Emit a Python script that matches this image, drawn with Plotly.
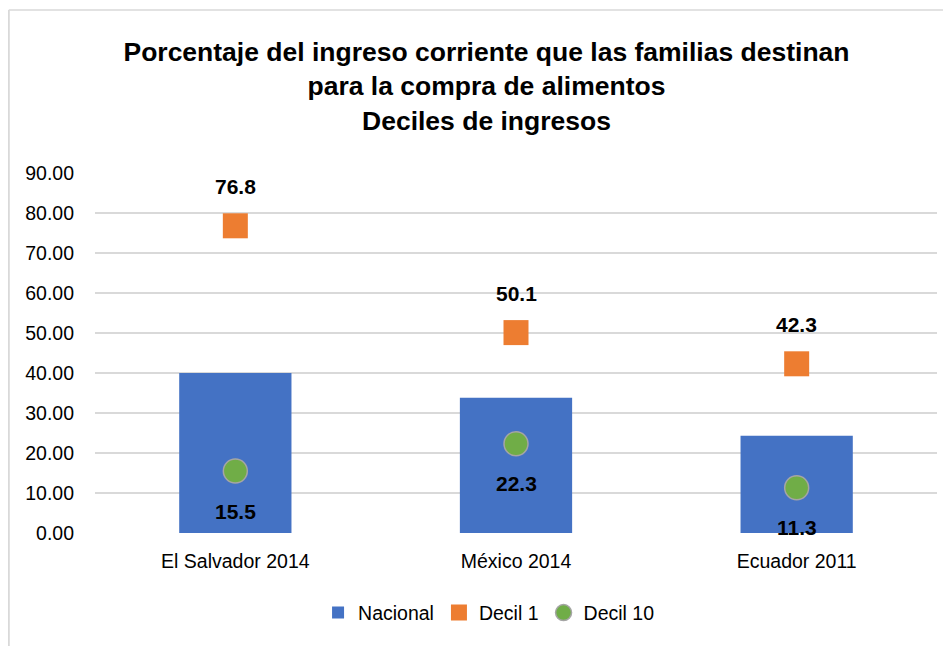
import plotly.graph_objects as go

categories = ["El Salvador 2014", "México 2014", "Ecuador 2011"]
nacional = [40.0, 33.8, 24.3]
decil1 = [76.8, 50.1, 42.3]
decil10 = [15.5, 22.3, 11.3]
y_ticks = [0, 10, 20, 30, 40, 50, 60, 70, 80, 90]
y_tick_labels = [f"{v:.2f}" for v in y_ticks]

FONT = "Liberation Sans, Arial, sans-serif"

fig = go.Figure()
fig.add_trace(go.Bar(x=categories, y=nacional, name="Nacional",
                     marker=dict(color="#4472C4", line=dict(width=0))))
fig.add_trace(go.Scatter(x=categories, y=decil1, name="Decil 1", mode="markers",
                         marker=dict(symbol="square", size=25, color="#ED7D31")))
fig.add_trace(go.Scatter(x=categories, y=decil10, name="Decil 10", mode="markers",
                         marker=dict(symbol="circle", size=24, color="#70AD47",
                                     line=dict(color="#A5A5A5", width=1.5))))

annotations = []
for c, v in zip(categories, decil1):
    annotations.append(dict(x=c, y=v, xref="x", yref="y", text=f"<b>{v:.1f}</b>",
                            showarrow=False, yshift=39, yanchor="middle",
                            font=dict(family=FONT, size=21, color="#000000")))
for c, v in zip(categories, decil10):
    annotations.append(dict(x=c, y=v, xref="x", yref="y", text=f"<b>{v:.1f}</b>",
                            showarrow=False, yshift=-40, yanchor="middle",
                            font=dict(family=FONT, size=21, color="#000000")))

fig.update_layout(
    width=943, height=638,
    margin=dict(l=87, r=14, t=165, b=113),
    paper_bgcolor="white", plot_bgcolor="white",
    font=dict(family=FONT, color="#000000"),
    title=dict(text="<b>Porcentaje del ingreso corriente que las familias destinan<br>para la compra de alimentos<br>Deciles de ingresos</b>",
               x=0.5074, xanchor="center", y=0.917, yanchor="middle", xref="container", yref="container",
               font=dict(family=FONT, size=26.5, color="#000000")),
    bargap=0.6,
    showlegend=True,
    legend=dict(orientation="h", x=0.468, xanchor="center", y=-0.222, yanchor="middle",
                font=dict(family=FONT, size=19.5, color="#000000"), itemwidth=30,
                traceorder="normal"),
    xaxis=dict(tickfont=dict(family=FONT, size=19.5, color="#000000"), showgrid=False,
               showline=False, ticks="", ticklabelstandoff=14),
    yaxis=dict(range=[0, 90], tickvals=y_ticks, ticktext=y_tick_labels,
               tickfont=dict(family=FONT, size=19.5, color="#000000"),
               showgrid=True, gridcolor="#D9D9D9", gridwidth=1.5, zeroline=False,
               showline=False, ticks="", ticklabelstandoff=20),
    annotations=annotations,
    shapes=[
        dict(type="line", xref="paper", yref="paper", x0=-0.1024, x1=1.2, y0=1.4528, y1=1.4528,
             line=dict(color="#D9D9D9", width=1.5)),
        dict(type="line", xref="paper", yref="paper", x0=-0.1024, x1=-0.1024, y0=1.4528, y1=-0.4,
             line=dict(color="#D9D9D9", width=2)),
    ],
)

fig.write_html("out.html")
